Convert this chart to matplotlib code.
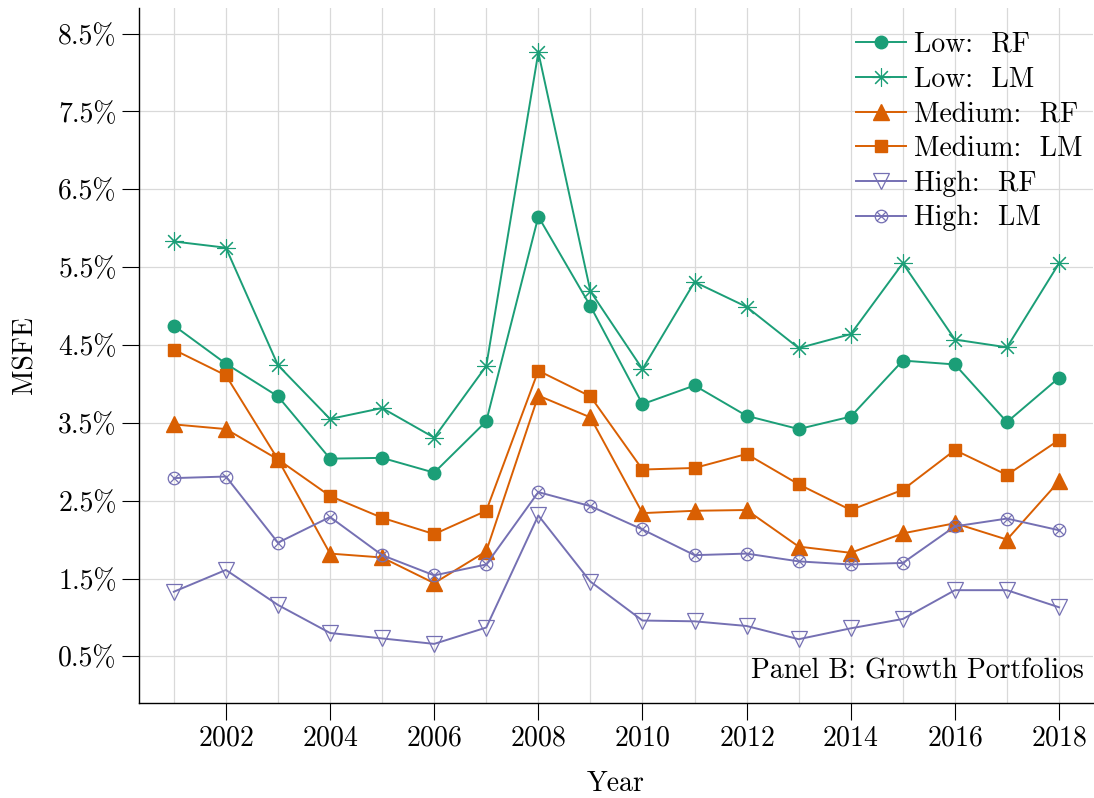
import numpy as np
import matplotlib
matplotlib.use("Agg")
import matplotlib.pyplot as plt
from matplotlib.path import Path
from matplotlib.ticker import MultipleLocator

plt.rcParams['font.family'] = ['cmr10', 'DejaVu Serif']
plt.rcParams['mathtext.fontset'] = 'cm'
plt.rcParams['axes.formatter.use_mathtext'] = True

years = list(range(2001, 2019))

# MSFE in percent
low_rf = [4.75, 4.26, 3.84, 3.04, 3.05, 2.86, 3.52, 6.15, 5.00, 3.74,
          3.98, 3.59, 3.42, 3.58, 4.30, 4.25, 3.51, 4.08]
low_lm = [5.83, 5.75, 4.24, 3.55, 3.69, 3.31, 4.23, 8.26, 5.19, 4.19,
          5.31, 4.99, 4.46, 4.64, 5.55, 4.57, 4.47, 5.55]
med_rf = [3.48, 3.42, 3.03, 1.82, 1.77, 1.44, 1.85, 3.85, 3.57, 2.34,
          2.37, 2.38, 1.91, 1.83, 2.08, 2.21, 2.00, 2.75]
med_lm = [4.44, 4.11, 3.03, 2.56, 2.28, 2.07, 2.37, 4.17, 3.84, 2.90,
          2.92, 3.10, 2.71, 2.38, 2.64, 3.15, 2.83, 3.28]
high_rf = [1.33, 1.61, 1.16, 0.80, 0.73, 0.66, 0.87, 2.31, 1.46, 0.96,
           0.95, 0.89, 0.72, 0.86, 0.98, 1.35, 1.35, 1.13]
high_lm = [2.79, 2.81, 1.96, 2.29, 1.80, 1.54, 1.68, 2.61, 2.43, 2.13,
           1.80, 1.82, 1.72, 1.68, 1.70, 2.17, 2.27, 2.12]

yticks = [0.5, 1.5, 2.5, 3.5, 4.5, 5.5, 6.5, 7.5, 8.5]
ytick_labels = ['0.5%', '1.5%', '2.5%', '3.5%', '4.5%', '5.5%', '6.5%', '7.5%', '8.5%']
xticks = [2002, 2004, 2006, 2008, 2010, 2012, 2014, 2016, 2018]

green = '#1b9e77'
orange = '#d95f02'
purple = '#7570b3'

# circle with a cross inside (otimes)
circ = Path.unit_circle()
d = np.sqrt(0.5)
cross = Path([(-d, -d), (d, d), (-d, d), (d, -d)],
             [Path.MOVETO, Path.LINETO, Path.MOVETO, Path.LINETO])
otimes = Path.make_compound_path(circ, cross)

fig = plt.figure(figsize=(10.94, 7.98), dpi=100)
ax = fig.add_axes([0.127, 0.119, 0.872, 0.871])

lw = 1.4
ax.plot(years, low_rf, color=green, lw=lw, marker='o', ms=9, label='Low:  RF')
ax.plot(years, low_lm, color=green, lw=lw, marker=(8, 2, 0), ms=13, mew=0.8, label='Low:  LM')
ax.plot(years, med_rf, color=orange, lw=lw, marker='^', ms=11, label='Medium:  RF')
ax.plot(years, med_lm, color=orange, lw=lw, marker='s', ms=9, label='Medium:  LM')
ax.plot(years, high_rf, color=purple, lw=lw, marker='v', ms=12, mfc='none', mew=0.9,
        label='High:  RF')
ax.plot(years, high_lm, color=purple, lw=lw, marker=otimes, ms=9, mfc='none', mew=0.9,
        label='High:  LM')

ax.set_xlim(2000.33, 2018.65)
ax.set_ylim(-0.1, 8.83)
ax.set_xticks(xticks)
ax.xaxis.set_minor_locator(MultipleLocator(1))
ax.set_yticks(yticks)
ax.set_yticklabels(ytick_labels)

ax.grid(True, which='both', color='#d9d9d9', lw=0.9)
ax.set_axisbelow(True)
ax.tick_params(axis='both', which='major', direction='out', length=12, width=0.8,
               labelsize=20, pad=4)
ax.tick_params(axis='x', which='minor', length=0)

for s in ['top', 'right']:
    ax.spines[s].set_visible(False)
for s in ['left', 'bottom']:
    ax.spines[s].set_linewidth(1.0)

ax.set_xlabel('Year', fontsize=20, labelpad=14)
ax.set_ylabel('MSFE', fontsize=20, labelpad=14)

ax.text(0.991, 0.045, 'Panel B: Growth Portfolios', transform=ax.transAxes,
        ha='right', va='center', fontsize=20)

ax.legend(loc='upper right', bbox_to_anchor=(1.007, 0.99), frameon=False,
          fontsize=20, handlelength=1.8, handletextpad=0.3, labelspacing=0.3,
          borderaxespad=0.2)

fig.savefig('out.png', dpi=100)
